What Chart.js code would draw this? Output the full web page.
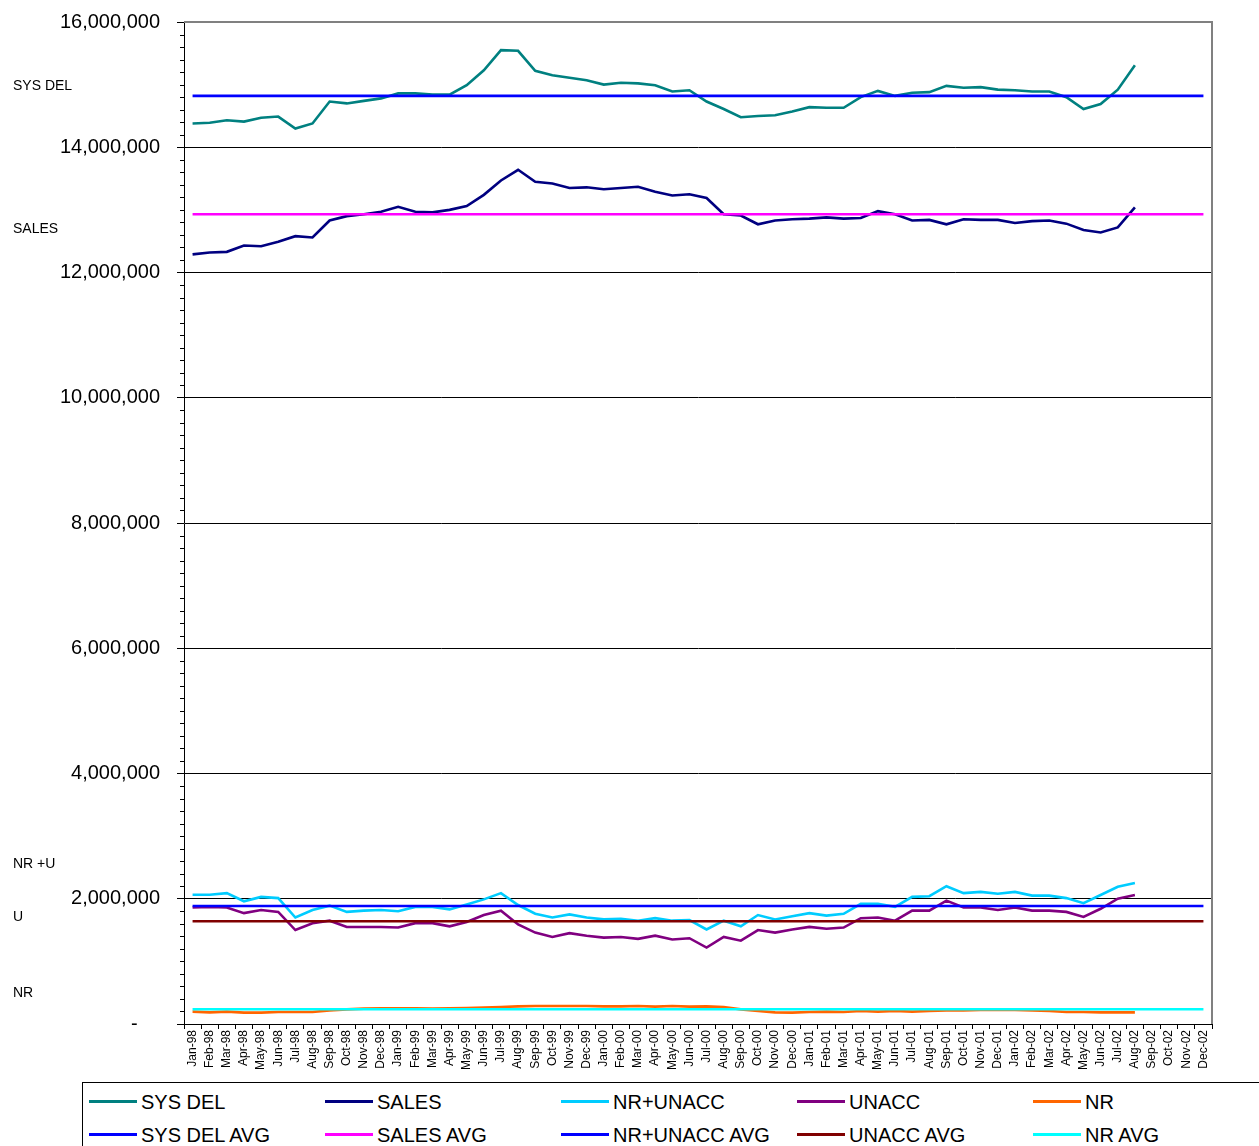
<!DOCTYPE html>
<html>
<head>
<meta charset="utf-8">
<script src="https://cdn.jsdelivr.net/npm/chart.js@4"></script>
<style>
  html, body { margin: 0; padding: 0; background: #fff; width: 1259px; height: 1146px; overflow: hidden; }
  body { position: relative; font-family: "Liberation Sans", Arial, sans-serif; }
  #c { position: absolute; left: 0; top: 0; }
  .note { position: absolute; left: 13px; font-size: 14px; line-height: 16px; color: #000; white-space: nowrap; }
  #legend { position: absolute; left: 82px; top: 1082px; width: 1180px; height: 80px; border: 1px solid #000; box-sizing: border-box; background: #fff; }
  .item { position: absolute; height: 24px; font-size: 20px; line-height: 24px; color: #000; white-space: nowrap; }
  .item span.sw { position: absolute; left: 0; top: 10px; width: 48px; height: 3px; }
  .item span.tx { position: absolute; left: 52px; top: 0; }
</style>
</head>
<body>
<canvas id="c" width="1259" height="1078"></canvas>
<div class="note" style="top:77px">SYS DEL</div>
<div class="note" style="top:220px">SALES</div>
<div class="note" style="top:855px">NR +U</div>
<div class="note" style="top:908px">U</div>
<div class="note" style="top:984px">NR</div>
<div id="legend"></div>
<script>
const months = [
  "Jan-98","Feb-98","Mar-98","Apr-98","May-98","Jun-98","Jul-98","Aug-98","Sep-98","Oct-98","Nov-98","Dec-98",
  "Jan-99","Feb-99","Mar-99","Apr-99","May-99","Jun-99","Jul-99","Aug-99","Sep-99","Oct-99","Nov-99","Dec-99",
  "Jan-00","Feb-00","Mar-00","Apr-00","May-00","Jun-00","Jul-00","Aug-00","Sep-00","Oct-00","Nov-00","Dec-00",
  "Jan-01","Feb-01","Mar-01","Apr-01","May-01","Jun-01","Jul-01","Aug-01","Sep-01","Oct-01","Nov-01","Dec-01",
  "Jan-02","Feb-02","Mar-02","Apr-02","May-02","Jun-02","Jul-02","Aug-02","Sep-02","Oct-02","Nov-02","Dec-02"
];

// values in millions (Jan-98 .. Aug-02)
const sysDel = [
  14.38,14.39,14.43,14.41,14.47,14.49,14.30,14.38,14.73,14.70,14.74,14.78,
  14.86,14.86,14.84,14.84,14.99,15.23,15.55,15.54,15.22,15.15,15.11,15.07,
  15.00,15.03,15.02,14.99,14.89,14.91,14.73,14.61,14.48,14.50,14.51,14.57,
  14.64,14.63,14.63,14.80,14.90,14.82,14.87,14.88,14.98,14.95,14.96,14.92,
  14.91,14.89,14.89,14.80,14.61,14.69,14.92,15.31
];
const sales = [
  12.29,12.32,12.33,12.43,12.42,12.49,12.58,12.56,12.83,12.90,12.93,12.97,
  13.05,12.97,12.96,13.00,13.06,13.24,13.47,13.64,13.45,13.42,13.35,13.36,
  13.33,13.35,13.37,13.29,13.23,13.25,13.19,12.93,12.91,12.77,12.83,12.85,
  12.86,12.88,12.86,12.87,12.98,12.93,12.83,12.84,12.77,12.85,12.84,12.84,
  12.79,12.82,12.83,12.78,12.68,12.64,12.72,13.04
];
const nrUnacc = [
  2.065,2.065,2.09,1.96,2.03,2.01,1.70,1.82,1.89,1.79,1.81,1.82,
  1.80,1.87,1.87,1.83,1.91,1.99,2.09,1.90,1.76,1.70,1.75,1.70,
  1.67,1.68,1.65,1.69,1.65,1.66,1.51,1.65,1.56,1.74,1.67,1.72,
  1.77,1.73,1.76,1.92,1.92,1.87,2.03,2.04,2.20,2.09,2.11,2.08,
  2.11,2.05,2.05,2.01,1.93,2.06,2.19,2.25
];
const unacc = [
  1.86,1.87,1.86,1.77,1.82,1.79,1.50,1.61,1.65,1.55,1.55,1.55,
  1.54,1.61,1.61,1.56,1.63,1.74,1.81,1.59,1.46,1.39,1.45,1.41,
  1.38,1.39,1.36,1.41,1.35,1.37,1.22,1.39,1.33,1.50,1.46,1.51,
  1.55,1.52,1.54,1.69,1.70,1.65,1.81,1.81,1.97,1.86,1.86,1.82,
  1.86,1.81,1.81,1.79,1.71,1.84,2.00,2.06
];
const nr = [
  0.197,0.186,0.197,0.181,0.181,0.192,0.192,0.192,0.218,0.234,0.245,0.250,
  0.250,0.250,0.245,0.250,0.255,0.261,0.271,0.282,0.287,0.287,0.287,0.287,
  0.282,0.282,0.287,0.277,0.287,0.277,0.282,0.271,0.234,0.208,0.186,0.181,
  0.192,0.197,0.192,0.208,0.197,0.208,0.197,0.208,0.218,0.218,0.224,0.224,
  0.224,0.218,0.208,0.192,0.192,0.186,0.186,0.186
];
// averages (millions), constant across all months
const sysDelAvg = 14.82;
const salesAvg = 12.93;
const nrUnaccAvg = 1.885;
const unaccAvg = 1.64;
const nrAvg = 0.235;

const yTicks = [0, 2000000, 4000000, 6000000, 8000000, 10000000, 12000000, 14000000, 16000000];

const M = 1000000;
const toFull = arr => months.map((m, i) => (i < arr.length ? arr[i] * M : null));
const flat = v => months.map(() => v * M);

const series = [
  { label: "SYS DEL", data: toFull(sysDel), color: "#008080", order: 2 },
  { label: "SALES", data: toFull(sales), color: "#000080", order: 2 },
  { label: "NR+UNACC", data: toFull(nrUnacc), color: "#00CCFF", order: 2 },
  { label: "UNACC", data: toFull(unacc), color: "#800080", order: 2 },
  { label: "NR", data: toFull(nr), color: "#FF6600", order: 2 },
  { label: "SYS DEL AVG", data: flat(sysDelAvg), color: "#0000FF", order: 1 },
  { label: "SALES AVG", data: flat(salesAvg), color: "#FF00FF", order: 1 },
  { label: "NR+UNACC AVG", data: flat(nrUnaccAvg), color: "#0000FF", order: 1 },
  { label: "UNACC AVG", data: flat(unaccAvg), color: "#800000", order: 1 },
  { label: "NR AVG", data: flat(nrAvg), color: "#00FFFF", order: 0 }
];

const FONT = "'Liberation Sans', Arial, sans-serif";

const decor = {
  id: "decor",
  afterDraw(chart) {
    const { ctx, chartArea: a, scales } = chart;
    const y = scales.y;
    ctx.save();
    // minor ticks every 200,000
    ctx.strokeStyle = "#000";
    ctx.lineWidth = 1;
    for (let v = 0; v <= 16000000; v += 200000) {
      if (v % 2000000 === 0) continue;
      const py = Math.round(y.getPixelForValue(v)) + 0.5;
      ctx.beginPath();
      ctx.moveTo(a.left - 4, py);
      ctx.lineTo(a.left, py);
      ctx.stroke();
    }
    // plot area border (top, right) in grey
    ctx.strokeStyle = "#808080";
    ctx.lineWidth = 2;
    ctx.beginPath();
    ctx.moveTo(a.left, a.top);
    ctx.lineTo(a.right, a.top);
    ctx.lineTo(a.right, a.bottom);
    ctx.stroke();
    ctx.restore();
  }
};

new Chart(document.getElementById("c"), {
  type: "line",
  data: {
    labels: months,
    datasets: series.map(s => ({
      label: s.label,
      data: s.data,
      borderColor: s.color,
      backgroundColor: s.color,
      borderWidth: 2.6,
      pointRadius: 0,
      pointHoverRadius: 0,
      tension: 0,
      fill: false,
      spanGaps: false,
      order: s.order
    }))
  },
  options: {
    responsive: false,
    animation: false,
    devicePixelRatio: 1,
    layout: { padding: { top: 22, right: 47, left: 0, bottom: 0 } },
    plugins: { legend: { display: false }, tooltip: { enabled: false } },
    scales: {
      x: {
        type: "category",
        offset: true,
        afterFit(scale) { scale.height = 54; scale.paddingLeft = 0; scale.paddingRight = 0; },
        grid: {
          offset: true,
          drawOnChartArea: false,
          drawTicks: true,
          tickLength: 5,
          color: "#000",
          lineWidth: 1
        },
        border: { display: true, color: "#000", width: 1 },
        ticks: {
          autoSkip: false,
          maxRotation: 90,
          minRotation: 90,
          padding: 1,
          color: "#000",
          font: { family: FONT, size: 12 }
        }
      },
      y: {
        min: 0,
        max: 16000000,
        afterFit(scale) { scale.width = 184; scale.paddingTop = 0; scale.paddingBottom = 0; },
        afterBuildTicks(scale) { scale.ticks = yTicks.map(v => ({ value: v })); },
        grid: {
          color: ctx => (ctx.tick && ctx.tick.value === 16000000 ? "rgba(0,0,0,0)" : "#000"),
          lineWidth: 1,
          drawTicks: true,
          tickLength: 7,
          tickColor: "#000"
        },
        border: { display: true, color: "#000", width: 1 },
        ticks: {
          padding: 17,
          color: "#000",
          font: { family: FONT, size: 20 },
          callback: v => (v === 0 ? "-    " : Number(v).toLocaleString("en-US"))
        }
      }
    }
  },
  plugins: [decor]
});

// HTML legend (two rows, five columns)
const legend = document.getElementById("legend");
series.forEach((s, i) => {
  const col = i % 5, row = Math.floor(i / 5);
  const d = document.createElement("div");
  d.className = "item";
  d.style.left = (88 - 82 + col * 236) + "px";
  d.style.top = (7 + row * 33) + "px";
  d.innerHTML = '<span class="sw" style="background:' + s.color + '"></span><span class="tx">' + s.label + '</span>';
  legend.appendChild(d);
});
</script>
</body>
</html>
